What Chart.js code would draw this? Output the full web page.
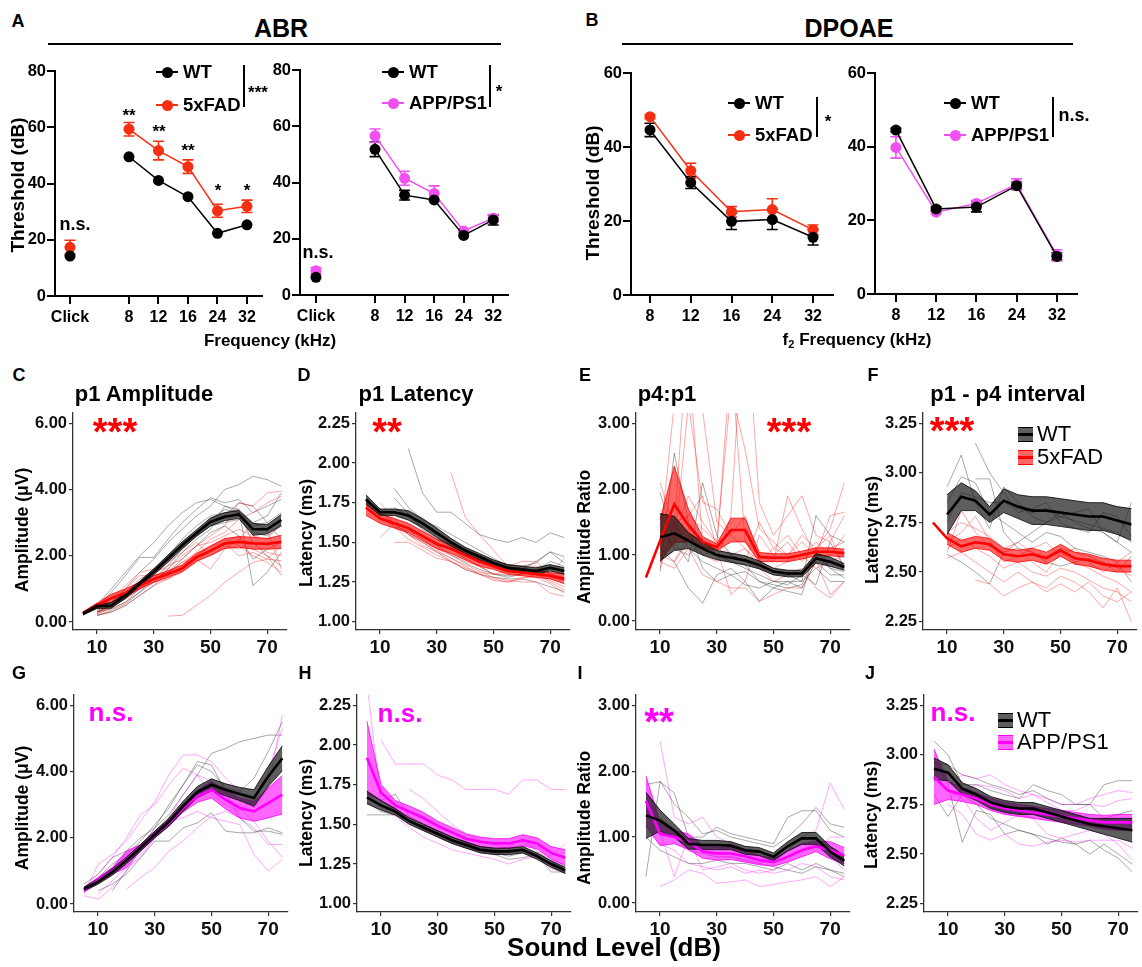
<!DOCTYPE html>
<html><head><meta charset="utf-8">
<script src="https://cdn.jsdelivr.net/npm/chart.js@4.4.1/dist/chart.umd.min.js"></script>
<style>
html,body{margin:0;padding:0;background:#fff;}
body{width:1142px;height:967px;position:relative;overflow:hidden;font-family:'Liberation Sans',Arial,sans-serif;color:#000;}
canvas{position:absolute;}
.t{position:absolute;white-space:nowrap;line-height:1;font-weight:bold;transform:translate(-50%,-50%);}
</style></head><body>
<script>
// ---------------- DATA ----------------
// ABR thresholds (dB)
const abrLabels = ['Click','8','12','16','24','32'];
const abrPos = [0,2,3,4,5,6];
const abrWT5 = [14.2, 49.5, 41.1, 35.3, 22.3, 25.3];
const abrWT5Err = [0, 0, 0, 0, 0, 0];
const abr5xFAD = [17.3, 59.3, 51.7, 46.0, 30.3, 31.9];
const abr5xFADErr = [2.5, 2.4, 3.3, 2.4, 2.3, 2.2];
const abrWTA = [6.3, 51.8, 35.5, 33.8, 21.2, 26.7];
const abrWTAErr = [0, 2.6, 1.7, 0, 0, 1.8];
const abrAPP = [8.6, 56.6, 41.5, 36.1, 22.8, 27.3];
const abrAPPErr = [1.2, 2.4, 2.5, 2.7, 0.5, 1.3];
// DPOAE thresholds (dB)
const dpLabels = ['8','12','16','24','32'];
const dpPos = [0,1,2,3,4];
const dpWT5 = [44.6, 30.4, 19.9, 20.4, 15.6];
const dpWT5Err = [1.8, 1.6, 2.2, 2.7, 2.1];
const dp5xFAD = [48.2, 33.6, 22.5, 23.1, 17.6];
const dp5xFADErr = [0.5, 2.0, 1.4, 2.9, 1.3];
const dpWTA = [44.5, 23.1, 23.6, 29.4, 10.2];
const dpWTAErr = [0.5, 0.5, 1.3, 1.0, 1.0];
const dpAPP = [39.8, 22.2, 24.6, 29.8, 10.5];
const dpAPPErr = [2.9, 0.5, 0.8, 1.5, 1.5];

// Sound levels (dB)
const levels = [5,10,15,20,25,30,35,40,45,50,55,60,65,70,75];

// C: p1 amplitude (5xFAD)
const cWTMean = [0.25,0.48,0.50,0.80,1.15,1.52,1.92,2.32,2.68,3.02,3.18,3.25,2.80,2.80,3.08];
const cWTSem  = [0.04,0.07,0.08,0.08,0.08,0.09,0.10,0.10,0.10,0.12,0.12,0.12,0.18,0.14,0.17];
const c5xMean = [0.27,0.50,0.72,0.88,1.10,1.30,1.45,1.62,1.95,2.15,2.37,2.42,2.38,2.36,2.42];
const c5xSem  = [0.04,0.07,0.12,0.12,0.10,0.10,0.10,0.10,0.12,0.14,0.15,0.16,0.18,0.16,0.20];
const cWTTraces = [
 [null,0.45,0.9,1.4,1.95,1.95,2.5,3.0,3.4,3.75,3.6,3.7,3.3,3.5,3.7],
 [null,0.4,0.6,1.0,1.5,1.9,2.4,2.8,3.2,3.5,4.0,4.15,4.4,4.3,4.1],
 [null,0.3,0.5,0.8,1.2,1.6,2.0,2.5,2.9,3.2,3.3,3.4,1.1,1.5,2.1],
 [null,0.35,0.5,0.7,1.0,1.4,1.8,2.2,2.6,2.9,3.0,3.1,2.7,2.6,2.9],
 [null,0.3,0.4,0.6,0.9,1.2,1.6,2.1,2.5,2.8,3.5,3.4,3.0,3.2,3.9],
 [null,0.2,0.3,0.5,0.8,1.1,1.5,1.9,2.3,2.7,2.9,2.6,1.9,2.2,2.4],
 [null,0.5,1.0,1.5,2.0,2.4,2.9,3.3,3.6,3.7,3.5,3.3,2.9,3.0,3.3],
 [null,0.3,0.45,0.7,1.1,1.5,1.9,2.3,2.7,3.0,3.2,3.6,3.5,3.0,2.5],
 [null,0.2,0.35,0.55,0.9,1.3,1.7,2.2,2.6,3.1,3.4,3.3,2.4,2.0,1.7]];
const c5xTraces = [
 [null,0.3,0.5,0.9,1.3,1.5,1.7,1.9,2.3,2.6,2.9,3.6,3.5,3.9,3.95],
 [null,0.25,0.4,0.6,1.0,1.3,1.4,1.7,2.0,2.3,2.5,2.3,2.0,1.8,1.5],
 [null,null,null,null,null,null,0.18,0.2,0.5,0.8,1.2,1.5,1.8,1.9,1.85],
 [null,0.4,0.7,1.1,1.5,1.6,1.6,2.0,2.3,2.4,2.6,2.8,2.6,2.5,3.0],
 [null,0.3,0.5,0.8,1.2,1.5,1.8,2.1,2.4,2.0,2.3,2.2,2.4,2.1,2.0],
 [null,0.2,0.3,0.5,0.8,1.1,1.3,1.6,1.9,1.6,2.2,2.5,3.0,2.8,1.6],
 [null,0.35,0.6,1.0,1.4,1.4,1.5,1.8,2.1,2.5,2.7,3.1,3.3,3.6,3.8],
 [null,0.25,0.45,0.7,1.0,1.2,1.3,1.5,1.8,2.2,2.4,2.6,2.2,2.0,1.4],
 [null,0.3,0.5,0.8,1.1,1.3,1.5,1.8,2.0,2.3,2.4,2.0,2.1,1.9,2.3]];

// D: p1 latency (5xFAD)
const dWTMean = [1.77,1.69,1.69,1.67,1.62,1.56,1.50,1.45,1.41,1.37,1.34,1.33,1.32,1.34,1.32];
const dWTSem  = [0.03,0.02,0.02,0.03,0.03,0.03,0.025,0.02,0.02,0.02,0.02,0.02,0.02,0.02,0.02];
const d5xMean = [1.72,1.65,1.62,1.59,1.54,1.49,1.46,1.42,1.38,1.35,1.32,1.31,1.30,1.29,1.27];
const d5xSem  = [0.05,0.03,0.03,0.03,0.03,0.03,0.03,0.03,0.03,0.02,0.02,0.02,0.02,0.02,0.03];
const dWTTraces = [
 [null,null,null,2.09,1.81,1.69,1.69,1.62,1.55,1.52,1.50,1.53,1.50,1.56,1.53],
 [null,null,1.84,1.72,1.64,1.60,1.55,1.50,1.45,1.40,1.35,1.33,1.38,1.44,1.37],
 [null,null,1.78,1.68,1.58,1.52,1.46,1.40,1.35,1.30,1.28,1.30,1.32,1.38,1.35],
 [null,1.70,1.62,1.55,1.50,1.44,1.38,1.33,1.30,1.28,1.27,1.27,1.25,1.22,1.19],
 [1.78,1.66,1.60,1.57,1.54,1.48,1.42,1.37,1.33,1.30,1.29,1.30,1.33,1.28,1.26],
 [null,null,1.72,1.66,1.60,1.55,1.50,1.46,1.42,1.38,1.36,1.35,1.37,1.44,1.41]];
const d5xTraces = [
 [null,null,null,null,null,null,1.94,1.66,1.55,1.45,1.35,1.38,1.38,1.30,1.40],
 [null,1.75,1.65,1.55,1.50,1.45,1.40,1.36,1.32,1.28,1.26,1.25,1.25,1.18,1.16],
 [null,1.53,1.62,1.58,1.52,1.46,1.42,1.38,1.35,1.30,1.32,1.35,1.30,1.26,1.22],
 [null,null,1.50,1.50,1.45,1.40,1.38,1.33,1.30,1.27,1.25,1.27,1.30,1.25,1.20],
 [null,1.70,1.60,1.52,1.47,1.42,1.38,1.34,1.31,1.30,1.30,1.35,1.35,1.30,1.28],
 [null,1.72,1.62,1.55,1.48,1.44,1.40,1.35,1.30,1.26,1.25,1.28,1.28,1.24,1.18]];

// E: p4:p1 amplitude ratio (5xFAD)
const eWTMean = [null,1.27,1.33,1.22,1.10,1.00,0.96,0.92,0.85,0.75,0.72,0.72,0.95,0.90,0.82];
const eWTSem  = [null,0.36,0.26,0.12,0.10,0.07,0.07,0.07,0.06,0.05,0.05,0.05,0.07,0.07,0.05];
const e5xMean = [0.66,1.22,1.77,1.45,1.20,1.12,1.38,1.38,0.97,0.96,0.96,1.00,1.05,1.05,1.03];
const e5xSem  = [null,0.32,0.58,0.25,0.08,0.05,0.18,0.18,0.07,0.06,0.06,0.06,0.06,0.06,0.06];
const eWTTraces = [
 [null,0.75,2.55,1.5,1.2,1.0,0.9,0.8,0.7,0.6,0.6,0.5,0.9,0.7,0.7],
 [null,1.95,1.2,0.9,2.1,1.3,1.0,0.9,0.8,0.7,0.7,0.6,1.6,1.3,1.2],
 [null,1.1,0.9,0.5,0.27,0.7,0.8,0.6,0.3,0.5,0.6,0.6,0.8,0.6,0.6],
 [null,1.5,1.1,1.0,1.2,1.0,0.9,0.85,0.6,0.5,0.45,0.4,1.1,0.8,0.75],
 [null,1.0,1.2,1.4,0.8,0.6,0.7,0.55,0.5,0.6,0.55,0.7,0.55,1.2,0.8],
 [null,1.3,1.5,1.1,0.9,0.8,0.7,0.75,0.6,0.55,0.5,0.55,1.0,0.8,0.65]];
const e5xTraces = [
 [null,2.1,1.4,4.5,3.2,1.5,1.3,1.1,0.9,0.8,0.9,1.0,0.8,0.9,1.0],
 [null,1.3,1.2,1.6,1.4,1.2,3.5,2.6,1.4,1.2,1.0,1.3,1.1,1.4,2.1],
 [null,1.0,0.9,1.2,1.0,0.9,1.6,5.0,1.8,1.3,1.6,1.9,1.3,1.2,1.6],
 [null,0.9,0.8,1.1,0.7,0.6,0.5,0.5,0.3,0.4,0.5,0.5,0.9,0.4,0.6],
 [null,1.6,1.3,1.9,1.5,1.2,1.0,1.1,0.8,0.6,0.7,0.8,0.5,0.35,0.6],
 [null,null,0.9,1.3,1.0,1.1,0.4,0.6,1.3,1.0,1.2,0.9,1.1,1.3,0.8],
 [null,1.2,3.3,4.0,1.2,1.1,1.0,0.9,1.5,1.1,1.3,1.0,1.2,1.0,1.3],
 [null,1.4,1.1,3.3,1.8,1.7,1.3,1.6,0.9,1.1,1.0,1.2,1.0,1.1,1.2],
 [null,0.8,1.5,1.6,1.9,1.1,4.0,1.2,1.0,0.9,1.9,1.4,1.0,1.6,1.65]];

// F: p1-p4 interval (5xFAD)
const fWTMean = [null,2.79,2.88,2.86,2.79,2.86,2.83,2.81,2.81,2.80,2.79,2.78,2.78,2.76,2.74];
const fWTSem  = [null,0.10,0.07,0.05,0.04,0.06,0.06,0.07,0.07,0.07,0.07,0.07,0.07,0.07,0.08];
const f5xMean = [2.75,2.67,2.63,2.65,2.64,2.59,2.58,2.59,2.57,2.61,2.57,2.56,2.54,2.53,2.53];
const f5xSem  = [null,0.03,0.03,0.03,0.03,0.03,0.03,0.03,0.03,0.03,0.03,0.03,0.03,0.03,0.03];
const fWTTraces = [
 [null,2.93,3.09,2.85,2.72,2.93,2.85,2.78,2.75,2.80,2.75,2.72,2.70,2.65,2.85],
 [null,2.59,2.55,2.50,2.44,2.60,2.65,2.70,2.75,2.78,2.80,2.82,2.70,2.65,2.60],
 [null,null,null,3.15,3.00,2.90,2.80,2.82,2.85,2.75,2.72,2.70,2.80,2.78,2.68],
 [null,2.85,2.98,2.95,2.80,2.75,2.70,2.65,2.70,2.68,2.62,2.60,2.58,2.55,2.45],
 [null,null,null,2.97,2.97,2.70,2.62,2.60,2.55,2.53,2.55,2.57,2.55,2.50,2.58],
 [null,2.75,2.90,2.88,2.85,2.85,2.82,2.80,2.82,2.78,2.76,2.74,2.72,2.70,2.65]];
const f5xTraces = [
 [null,2.60,2.81,2.70,2.63,2.60,2.62,2.55,2.50,2.60,2.55,2.52,2.48,2.45,2.40],
 [null,2.57,2.60,2.55,2.50,2.45,2.50,2.45,2.42,2.48,2.45,2.40,2.32,2.42,2.25],
 [null,2.70,2.75,2.72,2.68,2.62,2.65,2.60,2.58,2.62,2.60,2.58,2.55,2.52,2.48],
 [null,null,null,2.46,2.44,2.38,2.42,2.45,2.40,2.44,2.40,2.45,2.38,2.35,2.40],
 [null,2.65,2.70,2.78,2.66,2.55,2.58,2.62,2.65,2.58,2.62,2.55,2.50,2.55,2.60],
 [null,2.62,2.67,2.62,2.58,2.52,2.55,2.50,2.48,2.52,2.50,2.46,2.42,2.40,2.35]];

// G: p1 amplitude (APP/PS1)
const gWTMean  = [0.45,0.68,0.97,1.32,1.70,2.10,2.48,2.95,3.38,3.60,3.45,3.32,3.20,3.85,4.40];
const gWTSem   = [0.06,0.08,0.10,0.10,0.10,0.10,0.12,0.15,0.17,0.18,0.18,0.20,0.25,0.30,0.38];
const gAPPMean = [0.42,0.72,1.00,1.35,1.70,2.10,2.45,2.90,3.25,3.45,3.15,2.90,2.80,3.05,3.30];
const gAPPSem  = [0.06,0.08,0.10,0.25,0.10,0.10,0.10,0.12,0.18,0.25,0.28,0.30,0.30,0.45,0.58];
const gWTTraces = [
 [null,null,0.4,1.0,1.7,2.3,3.0,3.6,4.3,4.2,3.4,2.6,2.2,2.2,2.1],
 [0.6,0.9,1.4,1.6,2.0,2.3,2.7,3.3,3.9,4.55,4.7,4.9,5.0,5.1,5.1],
 [null,0.4,0.6,0.9,1.4,1.9,1.9,2.3,2.45,2.75,2.2,2.15,2.15,2.3,2.15],
 [0.5,0.8,1.2,1.5,1.9,2.4,2.9,3.6,4.2,4.0,3.5,3.4,3.8,4.6,5.5]];
const gAPPTraces = [
 [0.25,0.15,0.5,1.0,1.5,2.0,2.6,3.3,3.9,3.7,3.2,2.9,2.5,1.9,1.4],
 [0.3,1.2,1.5,1.9,2.5,3.1,3.9,4.5,4.5,4.3,3.8,3.4,2.9,3.5,5.7],
 [null,null,null,0.45,0.8,1.1,1.6,1.9,2.3,2.65,2.8,2.6,2.3,1.8,1.8],
 [null,0.3,0.7,1.1,1.4,2.0,2.5,2.6,2.8,2.6,2.5,2.4,1.5,1.0,1.35],
 [0.5,0.9,1.4,2.0,2.7,3.0,3.6,4.1,3.9,3.3,3.0,2.8,3.2,4.0,5.3]];

// H: p1 latency (APP/PS1)
const hWTMean  = [1.67,1.62,1.58,1.52,1.48,1.44,1.40,1.37,1.34,1.33,1.33,1.34,1.30,1.25,1.21];
const hWTSem   = [0.04,0.03,0.02,0.02,0.02,0.02,0.02,0.02,0.02,0.02,0.02,0.02,0.02,0.02,0.02];
const hAPPMean = [1.92,1.70,1.62,1.58,1.54,1.49,1.45,1.41,1.39,1.38,1.38,1.40,1.38,1.32,1.29];
const hAPPSem  = [0.23,0.05,0.03,0.035,0.035,0.03,0.03,0.03,0.03,0.03,0.03,0.035,0.035,0.04,0.05];
const hWTTraces = [
 [1.56,1.56,1.56,1.52,1.47,1.43,1.39,1.36,1.33,1.31,1.28,1.29,1.31,1.20,1.20],
 [1.70,1.65,1.69,1.55,1.50,1.45,1.41,1.37,1.35,1.34,1.36,1.41,1.33,1.27,1.22],
 [1.64,1.58,1.56,1.50,1.46,1.42,1.38,1.35,1.33,1.32,1.30,1.32,1.30,1.24,1.19]];
const hAPPTraces = [
 [2.4,1.62,1.58,1.52,1.47,1.42,1.38,1.35,1.33,1.32,1.31,1.33,1.32,1.27,1.25],
 [null,2.03,1.88,1.88,1.88,1.81,1.78,1.72,1.72,1.72,1.69,1.78,1.78,1.72,1.72],
 [null,null,null,1.72,1.66,1.58,1.50,1.44,1.40,1.37,1.35,1.38,1.36,1.30,1.38],
 [null,1.60,1.55,1.48,1.42,1.38,1.34,1.32,1.30,1.28,1.25,1.28,1.30,1.22,1.20]];

// I: p4:p1 amplitude ratio (APP/PS1)
const iWTMean  = [1.33,1.25,1.10,0.90,0.88,0.88,0.87,0.80,0.78,0.70,0.86,0.98,0.98,0.78,0.64];
const iWTSem   = [0.35,0.16,0.10,0.08,0.07,0.07,0.06,0.06,0.06,0.06,0.07,0.09,0.09,0.08,0.08];
const iAPPMean = [1.55,1.05,1.00,0.93,0.78,0.75,0.75,0.71,0.65,0.62,0.70,0.80,0.86,0.80,0.72];
const iAPPSem  = [0.38,0.18,0.10,0.12,0.10,0.10,0.09,0.09,0.07,0.06,0.08,0.10,0.08,0.13,0.12];
const iWTTraces = [
 [0.4,1.85,1.5,1.3,1.05,1.1,1.0,0.95,0.9,0.85,1.0,1.2,1.45,1.2,1.15],
 [1.8,1.84,1.67,1.0,1.0,1.15,1.05,1.0,0.95,0.9,1.3,1.4,1.4,1.1,1.0],
 [1.0,0.8,0.7,0.6,0.6,0.65,0.6,0.6,0.55,0.5,0.6,0.5,0.6,0.5,0.45],
 [null,1.3,1.1,0.8,0.75,0.7,0.7,0.65,0.6,0.55,0.5,0.45,0.55,0.5,0.4]];
const iAPPTraces = [
 [null,2.45,1.3,1.2,1.3,1.0,0.9,0.8,0.7,0.6,0.8,1.0,1.1,1.82,1.42],
 [null,0.25,0.35,0.5,0.45,0.3,0.32,0.35,0.25,0.28,0.32,0.35,0.4,0.25,0.4],
 [null,1.1,0.4,1.0,0.5,0.55,0.6,0.5,0.45,0.5,0.7,0.8,0.9,0.7,0.5],
 [1.8,1.2,1.0,0.9,0.8,0.7,0.7,0.65,0.6,0.65,0.8,0.9,0.8,1.0,1.0],
 [null,0.9,0.8,0.6,0.55,0.5,0.55,0.45,0.5,0.45,0.5,0.6,0.55,0.4,0.35]];

// J: p1-p4 interval (APP/PS1)
const jWTMean  = [2.93,2.91,2.83,2.80,2.76,2.74,2.73,2.73,2.71,2.69,2.67,2.65,2.64,2.63,2.62];
const jWTSem   = [0.055,0.04,0.03,0.03,0.03,0.03,0.03,0.03,0.03,0.03,0.03,0.03,0.04,0.05,0.06];
const jAPPMean = [2.89,2.82,2.80,2.78,2.75,2.73,2.72,2.71,2.70,2.69,2.68,2.67,2.66,2.66,2.66];
const jAPPSem  = [0.14,0.045,0.035,0.03,0.03,0.03,0.03,0.03,0.03,0.03,0.03,0.03,0.035,0.04,0.04];
const jWTTraces = [
 [3.07,3.0,2.85,2.85,2.82,2.8,2.78,2.85,2.82,2.8,2.75,2.75,2.85,2.87,2.87],
 [2.98,2.85,2.56,2.72,2.7,2.6,2.62,2.6,2.55,2.58,2.55,2.5,2.55,2.5,2.45],
 [2.8,2.69,2.8,2.75,2.68,2.65,2.62,2.6,2.58,2.56,2.55,2.57,2.52,2.48,2.41],
 [2.96,2.95,2.9,2.88,2.85,2.83,2.8,2.82,2.78,2.75,2.75,2.75,2.68,2.7,2.72]];
const jAPPTraces = [
 [null,2.85,2.9,2.88,2.9,2.85,2.82,2.8,2.78,2.75,2.75,2.78,2.8,2.82,2.81],
 [null,2.75,2.7,2.6,2.57,2.6,2.55,2.54,2.56,2.57,2.56,2.57,2.57,2.57,2.53],
 [null,2.82,2.78,2.68,2.62,2.66,2.70,2.68,2.6,2.58,2.6,2.62,2.6,2.55,2.47],
 [null,2.78,2.82,2.85,2.84,2.82,2.78,2.8,2.76,2.72,2.72,2.75,2.74,2.77,2.78]];

const ampTicks = [0,2,4,6], latTicks = [1.00,1.25,1.50,1.75,2.00,2.25], ratioTicks = [0,1,2,3], intTicks = [2.25,2.50,2.75,3.00,3.25];

// ---------------- STYLE ----------------
Chart.defaults.font.family = "'Liberation Sans', Arial, sans-serif";
const RED_A = 'rgb(246,46,18)', PINK_A = 'rgb(240,80,240)';
const RED = '#ff0000', MAG = '#ff00ff';

function el(css){ const d=document.createElement('div'); d.style.cssText='position:absolute;'+css; document.body.appendChild(d); return d; }
function txt(s, cx, cy, size, o={}){
  const d=document.createElement('div'); d.className='t'; d.innerHTML=s;
  if (o.star) cy += 0.224*size;
  d.style.left=cx+'px'; d.style.top=cy+'px'; d.style.fontSize=size+'px';
  if (o.color) d.style.color=o.color;
  if (o.weight) d.style.fontWeight=o.weight;
  if (o.rot) d.style.transform='translate(-50%,-50%) rotate(-90deg)';
  if (o.left) d.style.transform='translate(0,-50%)';
  document.body.appendChild(d); return d;
}

function baseChart(geo, scales, datasets, plugins){
  const YW=62, XH=40, PT=14, PR=14;
  const L=geo.axisX-YW, T=geo.plotTop-PT, W=geo.plotRight+PR-L, H=geo.axisY+XH-T;
  const cv=document.createElement('canvas'); cv.width=W; cv.height=H;
  cv.style.left=L+'px'; cv.style.top=T+'px'; cv.style.width=W+'px'; cv.style.height=H+'px';
  document.body.appendChild(cv);
  scales.x.afterFit = s => { s.height = XH; };
  scales.y.afterFit = s => { s.width = YW; };
  return new Chart(cv, { type:'line', data:{datasets}, plugins: plugins||[],
    options:{ responsive:false, animation:false, devicePixelRatio:1,
      layout:{padding:{left:0,top:PT,right:PR,bottom:0}},
      plugins:{legend:{display:false}, tooltip:{enabled:false}},
      elements:{line:{tension:0}}, scales }});
}

// ---- Prism-style panels (A, B) ----
const errBars = { id:'errBars', beforeDatasetsDraw(chart){
  const ctx=chart.ctx, xs=chart.scales.x, ys=chart.scales.y;
  chart.data.datasets.forEach(ds=>{ if(!ds.errs) return;
    ctx.save(); ctx.strokeStyle=ds.borderColor; ctx.lineWidth=1.6;
    ds.errPos.forEach((p,i)=>{ const e=ds.errs[i]; if(!e) return;
      const px=xs.getPixelForValue(p), y1=ys.getPixelForValue(ds.errVals[i]-e), y2=ys.getPixelForValue(ds.errVals[i]+e);
      ctx.beginPath(); ctx.moveTo(px,y1); ctx.lineTo(px,y2);
      ctx.moveTo(px-5.5,y1); ctx.lineTo(px+5.5,y1); ctx.moveTo(px-5.5,y2); ctx.lineTo(px+5.5,y2); ctx.stroke(); });
    ctx.restore(); });
}};
function prismDs(pos, vals, errs, color, gap){
  const data=pos.map((p,i)=>({x:p,y:vals[i]}));
  if (gap) data.splice(1,0,{x:1,y:null});
  return {data, borderColor:color, backgroundColor:color, borderWidth:1.5, pointRadius:5.5,
    pointBackgroundColor:color, pointBorderColor:color, pointBorderWidth:0, errPos:pos, errVals:vals, errs};
}
function prismScales(xMin,xMax,xPos,xLab,yMax,yTicks){
  const grid={drawOnChartArea:false,drawTicks:true,tickLength:8,color:'#000',lineWidth:2};
  return {
    x:{type:'linear',min:xMin,max:xMax, afterBuildTicks:s=>{s.ticks=xPos.map(v=>({value:v}));},
       ticks:{autoSkip:false,maxRotation:0,minRotation:0,padding:4,color:'#000',font:{size:16,weight:'bold'},
              callback:(v)=>xLab[xPos.indexOf(v)]},
       grid, border:{display:true,color:'#000',width:2}},
    y:{type:'linear',min:0,max:yMax, afterBuildTicks:s=>{s.ticks=yTicks.map(v=>({value:v}));},
       ticks:{autoSkip:false,padding:1,color:'#000',font:{size:16.5,weight:'bold'},callback:v=>String(v)},
       grid, border:{display:true,color:'#000',width:2}}
  };
}
// A left: WT vs 5xFAD
baseChart({axisX:55,axisY:296,plotTop:71,plotRight:262},
  prismScales(-0.508,6.51,abrPos,abrLabels,80,[0,20,40,60,80]),
  [prismDs(abrPos,abrWT5,abrWT5Err,'#000',true), prismDs(abrPos,abr5xFAD,abr5xFADErr,RED_A,true)], [errBars]);
// A right: WT vs APP/PS1
baseChart({axisX:300,axisY:295,plotTop:70,plotRight:508},
  prismScales(-0.54,6.5,abrPos,abrLabels,80,[0,20,40,60,80]),
  [prismDs(abrPos,abrWTA,abrWTAErr,'#000',true), prismDs(abrPos,abrAPP,abrAPPErr,PINK_A,true)], [errBars]);
// B left
baseChart({axisX:631,axisY:295,plotTop:73,plotRight:833},
  prismScales(-0.466,4.49,dpPos,dpLabels,60,[0,20,40,60]),
  [prismDs(dpPos,dpWT5,dpWT5Err,'#000',false), prismDs(dpPos,dp5xFAD,dp5xFADErr,RED_A,false)], [errBars]);
// B right
baseChart({axisX:875,axisY:294,plotTop:73,plotRight:1077},
  prismScales(-0.52,4.5,dpPos,dpLabels,60,[0,20,40,60]),
  [prismDs(dpPos,dpWTA,dpWTAErr,'#000',false), prismDs(dpPos,dpAPP,dpAPPErr,PINK_A,false)], [errBars]);

// ---- ggplot-style panels (C-J) ----
function pts(arr){ return levels.map((x,i)=>({x, y: arr[i]==null?null:arr[i]})); }
function lineDs(arr,color,w){ return {data:pts(arr), borderColor:color, borderWidth:w, pointRadius:0, fill:false}; }
function ggScales(yMin,yMax,yTicks){
  const grid={drawOnChartArea:false,drawTicks:true,tickLength:4,color:'#333',lineWidth:1.2};
  return {
    x:{type:'linear',min:1.5,max:77, afterBuildTicks:s=>{s.ticks=[10,30,50,70].map(v=>({value:v}));},
       ticks:{autoSkip:false,maxRotation:0,minRotation:0,padding:2,color:'#111',font:{size:19,weight:'bold'},callback:v=>String(v)},
       grid, border:{display:true,color:'#333',width:1.3}},
    y:{type:'linear',min:yMin,max:yMax, afterBuildTicks:s=>{s.ticks=yTicks.map(v=>({value:v}));},
       ticks:{autoSkip:false,padding:2,color:'#111',font:{size:16.5,weight:'bold'},callback:v=>Number(v).toFixed(2)},
       grid, border:{display:true,color:'#333',width:1.3}}
  };
}
function ggPanel(axisX, row, yr, yTicks, wtT, mutT, wtM, wtS, mutM, mutS, mutCol){
  const ds=[];
  const thin = mutCol===RED ? 'rgba(255,0,0,0.35)' : 'rgba(255,0,255,0.35)';
  const bandC = mutCol===RED ? 'rgba(255,0,0,0.6)' : 'rgba(255,0,255,0.6)';
  wtT.forEach(t=>ds.push(lineDs(t,'rgba(40,40,40,0.4)',1)));
  mutT.forEach(t=>ds.push(lineDs(t,thin,1)));
  const band=(m,s,fc,lc)=>{
    const lo=m.map((v,i)=>(v==null||s[i]==null)?null:v-s[i]);
    const hi=m.map((v,i)=>(v==null||s[i]==null)?null:v+s[i]);
    ds.push({data:pts(lo),borderColor:lc,borderWidth:0.8,pointRadius:0,fill:false});
    ds.push({data:pts(hi),borderColor:lc,borderWidth:0.8,pointRadius:0,fill:'-1',backgroundColor:fc});
  };
  band(mutM,mutS,bandC,mutCol);
  band(wtM,wtS,'rgba(25,25,25,0.7)','#000');
  ds.push(lineDs(mutM,mutCol,2.6));
  ds.push(lineDs(wtM,'#000',2.6));
  ds.forEach((d,i)=>{ d.order = ds.length - i; });
  const plotTop = row===1 ? 413 : 695, axisY = row===1 ? 630 : 912;
  baseChart({axisX, axisY, plotTop, plotRight: axisX + 75.5*2.84}, ggScales(yr[0],yr[1],yTicks), ds);
}
const AMP=[-0.24,6.31], LAT=[0.948,2.315], RAT=[-0.137,3.157], INT=[2.208,3.302];
ggPanel(73,1,AMP,ampTicks,cWTTraces,c5xTraces,cWTMean,cWTSem,c5xMean,c5xSem,RED);
ggPanel(356,1,LAT,latTicks,dWTTraces,d5xTraces,dWTMean,dWTSem,d5xMean,d5xSem,RED);
ggPanel(636,1,RAT,ratioTicks,eWTTraces,e5xTraces,eWTMean,eWTSem,e5xMean,e5xSem,RED);
ggPanel(923,1,INT,intTicks,fWTTraces,f5xTraces,fWTMean,fWTSem,f5xMean,f5xSem,RED);
ggPanel(74,2,AMP,ampTicks,gWTTraces,gAPPTraces,gWTMean,gWTSem,gAPPMean,gAPPSem,MAG);
ggPanel(357,2,LAT,latTicks,hWTTraces,hAPPTraces,hWTMean,hWTSem,hAPPMean,hAPPSem,MAG);
ggPanel(636,2,RAT,ratioTicks,iWTTraces,iAPPTraces,iWTMean,iWTSem,iAPPMean,iAPPSem,MAG);
ggPanel(924,2,INT,intTicks,jWTTraces,jAPPTraces,jWTMean,jWTSem,jAPPMean,jAPPSem,MAG);

// ---------------- TEXT & DECORATIONS ----------------
txt('A',18,21,18); txt('ABR',281,28,25);
el('left:48px;top:43px;width:453px;height:1.6px;background:#000');
txt('B',592,20,18); txt('DPOAE',849,28,25);
el('left:622px;top:43px;width:451px;height:1.6px;background:#000');
txt('Threshold (dB)',17,185,19,{rot:true});
txt('Threshold (dB)',592,193,19,{rot:true});
txt('Frequency (kHz)',270,340,17);
txt('f<sub style="font-size:11px;vertical-align:-3px">2</sub> Frequency (kHz)',857,340,17);
txt('n.s.',75,224,18); txt('n.s.',318,252,18);
txt('**',129,111,17,{star:true}); txt('**',159,127,17,{star:true}); txt('**',188,146,17,{star:true});
txt('*',218,186,17,{star:true}); txt('*',247,186,17,{star:true});
function prismLegend(mx,my,color,label){
  el(`left:${mx-11}px;top:${my-0.75}px;width:22px;height:1.5px;background:${color}`);
  el(`left:${mx-5.5}px;top:${my-5.5}px;width:11px;height:11px;border-radius:50%;background:${color}`);
  txt(label,mx+16,my,18.5,{left:true});
}
prismLegend(167,72,'#000','WT'); prismLegend(167,105,RED_A,'5xFAD');
prismLegend(393,72,'#000','WT'); prismLegend(393,103,PINK_A,'APP/PS1');
prismLegend(739,103,'#000','WT'); prismLegend(739,135,RED_A,'5xFAD');
prismLegend(955,103,'#000','WT'); prismLegend(955,135,PINK_A,'APP/PS1');
el('left:243px;top:65px;width:1.6px;height:42px;background:#000'); txt('***',258,88,17,{star:true});
el('left:489px;top:65px;width:1.6px;height:42px;background:#000'); txt('*',499,87,17,{star:true});
el('left:816px;top:97px;width:1.6px;height:40px;background:#000'); txt('*',828,117,17,{star:true});
el('left:1052px;top:97px;width:1.6px;height:40px;background:#000'); txt('n.s.',1074,115,18);

txt('C',19,375,18); txt('D',304,375,18); txt('E',585,375,18); txt('F',873,375,18);
txt('p1 Amplitude',144,394,22); txt('p1 Latency',416,394,22); txt('p4:p1',667,394,22); txt('p1 - p4 interval',1008,394,22);
txt('***',115,423,38,{star:true,color:RED}); txt('**',387,423,38,{star:true,color:RED});
txt('***',789,423,38,{star:true,color:RED}); txt('***',952,422,38,{star:true,color:RED});
txt('Amplitude (μV)',23,530,17.5,{rot:true}); txt('Latency (ms)',307,533,17.5,{rot:true});
txt('Amplitude Ratio',585,537,17.5,{rot:true}); txt('Latency (ms)',873,530,17.5,{rot:true});
function ggKey(x,cy,fill,line,label){
  el(`left:${x}px;top:${cy-7.5}px;width:15px;height:15px;background:${fill};box-sizing:border-box;border-top:1px solid ${line};border-bottom:1px solid ${line}`);
  el(`left:${x}px;top:${cy-1.5}px;width:15px;height:3px;background:${line}`);
  txt(label,x+19,cy,22,{left:true,weight:'normal'});
}
ggKey(1018,434,'rgba(25,25,25,0.7)','#000','WT'); ggKey(1018,457,'rgba(255,0,0,0.6)',RED,'5xFAD');

txt('G',19,673,18); txt('H',305,673,18); txt('I',580,673,18); txt('J',870,673,18);
txt('n.s.',111,712,26,{color:MAG}); txt('n.s.',400,713,26,{color:MAG});
txt('**',659,713,38,{star:true,color:MAG}); txt('n.s.',953,712,26,{color:MAG});
txt('Amplitude (μV)',23,808,17.5,{rot:true}); txt('Latency (ms)',307,813,17.5,{rot:true});
txt('Amplitude Ratio',585,818,17.5,{rot:true}); txt('Latency (ms)',872,815,17.5,{rot:true});
ggKey(998,720,'rgba(25,25,25,0.7)','#000','WT'); ggKey(998,742,'rgba(255,0,255,0.6)',MAG,'APP/PS1');
txt('Sound Level (dB)',614,947,26);
</script></body></html>
